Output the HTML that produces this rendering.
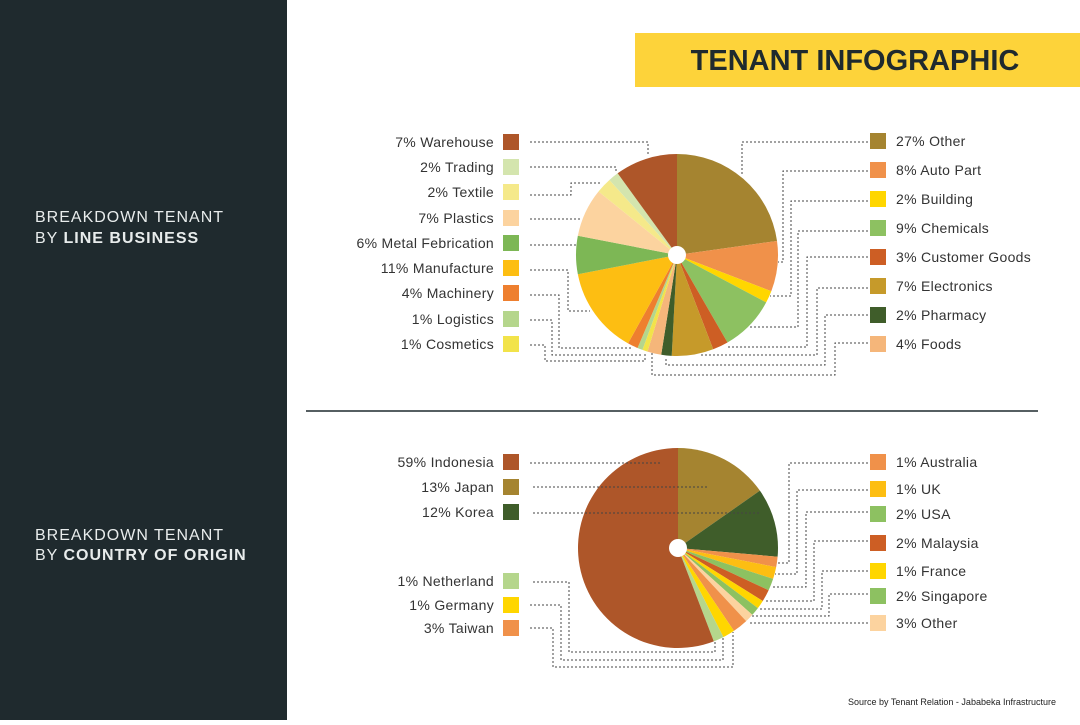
<!DOCTYPE html>
<html><head><meta charset="utf-8"><style>
body{margin:0;width:1080px;height:720px;overflow:hidden;background:#fff;font-family:"Liberation Sans",sans-serif}
</style></head><body>
<svg id="s" width="1080" height="720" xmlns="http://www.w3.org/2000/svg" font-family="Liberation Sans, sans-serif">
<rect x="0" y="0" width="287" height="720" fill="#1F2A2E"/>
<text x="35" y="222" fill="#e8ecec" font-size="16" letter-spacing="1">BREAKDOWN TENANT</text>
<text x="35" y="243" fill="#e8ecec" font-size="16" letter-spacing="1">BY <tspan font-weight="bold">LINE BUSINESS</tspan></text>
<text x="35" y="540" fill="#e8ecec" font-size="16" letter-spacing="1">BREAKDOWN TENANT</text>
<text x="35" y="560" fill="#e8ecec" font-size="16" letter-spacing="1">BY <tspan font-weight="bold">COUNTRY OF ORIGIN</tspan></text>
<rect x="635" y="33" width="445" height="54" fill="#FDD33A"/>
<text x="855" y="70" text-anchor="middle" font-size="29" font-weight="bold" fill="#1F2A2E">TENANT INFOGRAPHIC</text>
<line x1="306" y1="411" x2="1038" y2="411" stroke="#1F2A2E" stroke-width="1.5"/>
<text x="1056" y="705" text-anchor="end" font-size="9" fill="#222">Source by Tenant Relation - Jababeka Infrastructure</text>
<g id="pies"></g>
<g id="lines" fill="none" stroke="#444" stroke-width="1" stroke-dasharray="2,2"></g>
<g id="leg" font-size="14" fill="#333" letter-spacing="0.3"></g>
</svg>
<script>
const NS="http://www.w3.org/2000/svg";
function el(t,a,p){const e=document.createElementNS(NS,t);for(const k in a)e.setAttribute(k,a[k]);document.getElementById(p).appendChild(e);return e}
function pie(cx,cy,r,sl){let a0=0;for(const [a1,c] of sl){const f=d=>[cx+r*Math.sin(d*Math.PI/180),cy-r*Math.cos(d*Math.PI/180)];const p0=f(a0),p1=f(a1);
el('path',{d:`M${cx},${cy}L${p0[0]},${p0[1]}A${r},${r} 0 ${a1-a0>180?1:0} 1 ${p1[0]},${p1[1]}Z`,fill:c},'pies');a0=a1}
el('circle',{cx,cy,r:9,fill:'#fff'},'pies')}
pie(677,255,101,[[82,'#A58430'],[111,'#F0914A'],[118,'#FFD600'],[150,'#8DC161'],[159,'#CD5E24'],[183,'#C69A2A'],[189,'#3F5D2A'],[197,'#F5B67A'],[200,'#F2E34A'],[203,'#B5D68C'],[209,'#EE7F2F'],[259,'#FDBE12'],[281,'#7DB755'],[309,'#FCD39F'],[318,'#F5E98A'],[324,'#D4E5AE'],[360,'#AE5629']]);
pie(678,548,100,[[55,'#A58430'],[95,'#3F5D2A'],[101,'#F0914A'],[108,'#FDBE12'],[115,'#8DC161'],[122,'#CD5E24'],[127,'#FFD600'],[132,'#8DC161'],[137,'#FCD39F'],[146,'#F0914A'],[153,'#FFD600'],[159,'#B5D68C'],[360,'#AE5629']]);
const L=[
["7% Warehouse",142,'#AE5629',"M530,142H648V155"],
["2% Trading",167,'#D4E5AE',"M530,167H616V173"],
["2% Textile",192,'#F5E98A',"M530,195H571V183H600"],
["7% Plastics",218,'#FCD39F',"M530,219H582"],
["6% Metal Febrication",243,'#7DB755',"M530,245H577"],
["11% Manufacture",268,'#FDBE12',"M530,270H568V311H590"],
["4% Machinery",293,'#EE7F2F',"M530,295H559V348H632"],
["1% Logistics",319,'#B5D68C',"M530,320H552V355H643"],
["1% Cosmetics",344,'#F2E34A',"M530,345H545V361H645V352"],
["59% Indonesia",462,'#AE5629',"M530,463H660"],
["13% Japan",487,'#A58430',"M533,487H708"],
["12% Korea",512,'#3F5D2A',"M533,513H760"],
["1% Netherland",581,'#B5D68C',"M533,582H569V652H715V640"],
["1% Germany",605,'#FFD600',"M530,605H561V660H723V636"],
["3% Taiwan",628,'#F0914A',"M530,628H553V667H733V632"]];
const R=[
["27% Other",141,'#A58430',"M868,142H742V175"],
["8% Auto Part",170,'#F0914A',"M868,171H783V262H778"],
["2% Building",199,'#FFD600',"M868,201H791V296H770"],
["9% Chemicals",228,'#8DC161',"M868,231H798V327H750"],
["3% Customer Goods",257,'#CD5E24',"M868,257H807V347H728"],
["7% Electronics",286,'#C69A2A',"M868,288H817V355H700"],
["2% Pharmacy",315,'#3F5D2A',"M868,315H825V365H666V357"],
["4% Foods",344,'#F5B67A',"M868,343H835V375H652V352"],
["1% Australia",462,'#F0914A',"M868,463H789V563H776"],
["1% UK",489,'#FDBE12',"M868,490H797V574H775"],
["2% USA",514,'#8DC161',"M868,512H806V587H772"],
["2% Malaysia",543,'#CD5E24',"M868,541H814V601H765"],
["1% France",571,'#FFD600',"M868,571H822V609H758"],
["2% Singapore",596,'#8DC161',"M868,594H829V616H752"],
["3% Other",623,'#FCD39F',"M868,623H748"]];
for(const [t,y,c,d] of L){el('rect',{x:503,y:y-8,width:16,height:16,fill:c},'leg');const e=el('text',{x:494,y:y+5,'text-anchor':'end'},'leg');e.textContent=t;el('path',{d},'lines')}
for(const [t,y,c,d] of R){el('rect',{x:870,y:y-8,width:16,height:16,fill:c},'leg');const e=el('text',{x:896,y:y+5},'leg');e.textContent=t;el('path',{d},'lines')}
</script>
</body></html>
